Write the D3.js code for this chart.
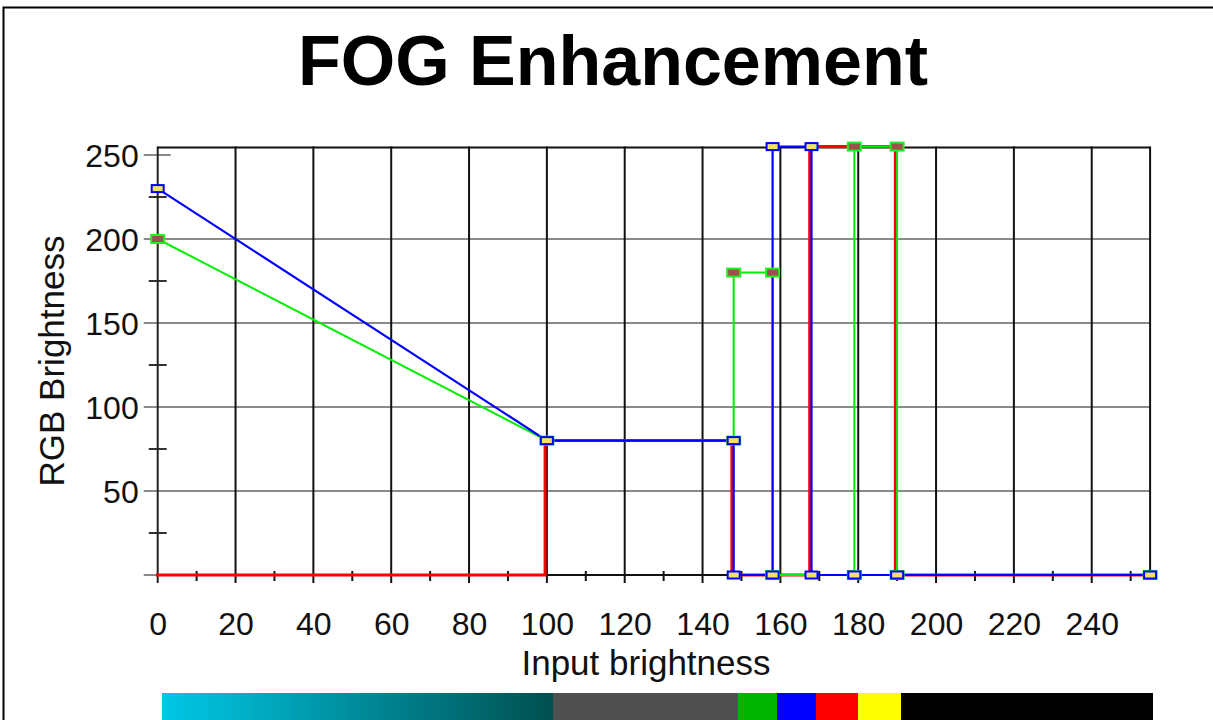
<!DOCTYPE html>
<html>
<head>
<meta charset="utf-8">
<script src="https://cdn.jsdelivr.net/npm/d3@7"></script>
<style>
  html, body { margin: 0; padding: 0; background: #fff; }
  svg { display: block; }
  text { font-family: "Liberation Sans", Arial, sans-serif; }
</style>
</head>
<body>
<svg id="chart" width="1213" height="720"></svg>
<script>
// ---- data ----
const title = "FOG Enhancement";
const xTitle = "Input brightness";
const yTitle = "RGB Brightness";
const xTicks = [0, 20, 40, 60, 80, 100, 120, 140, 160, 180, 200, 220, 240];
const xMinorTicks = [10, 30, 50, 70, 90, 110, 130, 150, 170, 190, 210, 230, 250];
const yTicks = [0, 50, 100, 150, 200, 250];
const yMinorTicks = [25, 75, 125, 175, 225];

const redX   = [0, 100, 100, 148, 148, 168, 168, 190, 190, 255];
const redY   = [0,   0,  80,  80,   0,   0, 255, 255,   0,   0];
const greenX = [0, 100, 148, 148, 158, 158, 179, 179, 190, 190, 255];
const greenY = [200, 80, 80, 180, 180,   0,   0, 255, 255,   0,   0];
const blueX  = [0, 100, 148, 148, 158, 158, 168, 168, 179, 190, 255];
const blueY  = [230, 80, 80,   0,   0, 255, 255,   0,   0,   0,   0];

// ---- setup ----
const svg = d3.select("#chart");
const W = 1213, H = 720;
svg.append("rect").attr("width", W).attr("height", H).attr("fill", "#fff");

// page frame
svg.append("path").attr("d", `M3.5,${H} V7.5 H${W}`)
  .attr("fill", "none").attr("stroke", "#000").attr("stroke-width", 2);

const x = d3.scaleLinear().domain([0, 255]).range([157.7, 1150.1]);
const y = d3.scaleLinear().domain([0, 255]).range([575, 146.6]);

// title
svg.append("text").attr("x", 613).attr("y", 85)
  .attr("text-anchor", "middle").attr("font-size", 70).attr("font-weight", "bold")
  .attr("fill", "#000").text(title);

const g = svg.append("g");

// horizontal grid (gray)
g.selectAll("line.hgrid").data(yTicks.filter(d => d > 0 && d < 250)).join("line")
  .attr("x1", x(0) - 14).attr("x2", x(255))
  .attr("y1", d => y(d)).attr("y2", d => y(d))
  .attr("stroke", "#8a8a8a").attr("stroke-width", 2);
// major y tick at 250 (gray, short)
g.append("line").attr("x1", x(0) - 14).attr("x2", x(0) + 13)
  .attr("y1", y(250)).attr("y2", y(250)).attr("stroke", "#8a8a8a").attr("stroke-width", 2);
// major y tick at 0 (gray, left only)
g.append("line").attr("x1", x(0) - 14).attr("x2", x(0))
  .attr("y1", y(0)).attr("y2", y(0)).attr("stroke", "#8a8a8a").attr("stroke-width", 2);
// minor y ticks
g.selectAll("line.ymin").data(yMinorTicks).join("line")
  .attr("x1", x(0) - 9).attr("x2", x(0) + 9)
  .attr("y1", d => y(d)).attr("y2", d => y(d))
  .attr("stroke", "#333").attr("stroke-width", 2);

// vertical grid (black)
g.selectAll("line.vgrid").data(xTicks.filter(d => d > 0)).join("line")
  .attr("x1", d => x(d)).attr("x2", d => x(d))
  .attr("y1", y(255)).attr("y2", y(0) + 8)
  .attr("stroke", "#111").attr("stroke-width", 2);
// minor x ticks
g.selectAll("line.xmin").data(xMinorTicks).join("line")
  .attr("x1", d => x(d)).attr("x2", d => x(d))
  .attr("y1", y(0) - 4).attr("y2", y(0) + 6)
  .attr("stroke", "#111").attr("stroke-width", 2);

// frame: left axis, top, right, bottom
g.append("line").attr("x1", x(0)).attr("x2", x(0)).attr("y1", y(255)).attr("y2", y(0) + 8)
  .attr("stroke", "#222").attr("stroke-width", 2);
g.append("line").attr("x1", x(0)).attr("x2", x(255)).attr("y1", y(255) + 1).attr("y2", y(255) + 1)
  .attr("stroke", "#111").attr("stroke-width", 2);
g.append("line").attr("x1", x(255)).attr("x2", x(255)).attr("y1", y(255)).attr("y2", y(0))
  .attr("stroke", "#111").attr("stroke-width", 2);
g.append("line").attr("x1", x(0)).attr("x2", x(255)).attr("y1", y(0)).attr("y2", y(0))
  .attr("stroke", "#111").attr("stroke-width", 2);

// axes (labels via d3 axes)
const xAxis = svg.append("g").attr("transform", `translate(0,${y(0)})`)
  .call(d3.axisBottom(x).tickValues(xTicks).tickSize(0).tickFormat(d3.format("d")));
xAxis.select(".domain").remove();
xAxis.selectAll("text").attr("y", 60).attr("dy", null)
  .attr("font-size", 32).attr("fill", "#111")
  .style("font-family", "'Liberation Sans', Arial, sans-serif");

const yAxis = svg.append("g").attr("transform", `translate(${x(0)},0)`)
  .call(d3.axisLeft(y).tickValues(yTicks.filter(d => d > 0)).tickSize(0).tickFormat(d3.format("d")));
yAxis.select(".domain").remove();
yAxis.selectAll("text").attr("x", -19).attr("dy", "0.36em")
  .attr("font-size", 32).attr("fill", "#111")
  .style("font-family", "'Liberation Sans', Arial, sans-serif");

// axis titles
svg.append("text").attr("x", 646).attr("y", 675).attr("text-anchor", "middle")
  .attr("font-size", 35).attr("fill", "#111").text(xTitle);
svg.append("text").attr("transform", "translate(64,361) rotate(-90)")
  .attr("text-anchor", "middle").attr("font-size", 35).attr("fill", "#111").text(yTitle);

// curves
const line = d3.line().x(d => x(d[0])).y(d => y(d[1]));
const zip = (xs, ys) => xs.map((v, i) => [v, ys[i]]);
const redPts = zip(redX, redY), greenPts = zip(greenX, greenY), bluePts = zip(blueX, blueY);

svg.append("path").datum(redPts).attr("d", line).attr("transform", "translate(-1.8,0)")
  .attr("fill", "none").attr("stroke", "#ff0000").attr("stroke-width", 3);
svg.append("path").datum(greenPts).attr("d", line)
  .attr("fill", "none").attr("stroke", "#00ee00").attr("stroke-width", 2);
svg.append("path").datum(bluePts).attr("d", line)
  .attr("fill", "none").attr("stroke", "#0000ff").attr("stroke-width", 2.2);

// markers
svg.selectAll("rect.gm").data(greenPts).join("rect")
  .attr("x", d => x(d[0]) - 6.5).attr("y", d => y(d[1]) - 4)
  .attr("width", 13).attr("height", 8)
  .attr("fill", "#a0504a").attr("stroke", "#22ee22").attr("stroke-width", 2);
svg.selectAll("rect.bm").data(bluePts).join("rect")
  .attr("x", d => x(d[0]) - 6).attr("y", d => y(d[1]) - 3.5)
  .attr("width", 12).attr("height", 7)
  .attr("fill", "#f2e26a").attr("stroke", "#0000ff").attr("stroke-width", 2);

// colour bar derived from the curves
function evalAt(xs, ys, v) {
  for (let i = 0; i < xs.length - 1; i++) {
    if (xs[i + 1] > xs[i] && v >= xs[i] && v <= xs[i + 1]) {
      return ys[i] + (ys[i + 1] - ys[i]) * (v - xs[i]) / (xs[i + 1] - xs[i]);
    }
  }
  return ys[ys.length - 1];
}
const levels = d3.range(0, 256);
const xb = d3.scaleLinear().domain([0, 256]).range([162, 1152]);
svg.append("g").selectAll("rect").data(levels).join("rect")
  .attr("x", d => xb(d)).attr("width", d => xb(d + 1) - xb(d) + 0.6)
  .attr("y", 693).attr("height", 30)
  .attr("shape-rendering", "crispEdges")
  .attr("fill", d => d3.rgb(
    Math.round(evalAt(redX, redY, d)),
    Math.round(evalAt(greenX, greenY, d)),
    Math.round(evalAt(blueX, blueY, d))).toString());
</script>
</body>
</html>
